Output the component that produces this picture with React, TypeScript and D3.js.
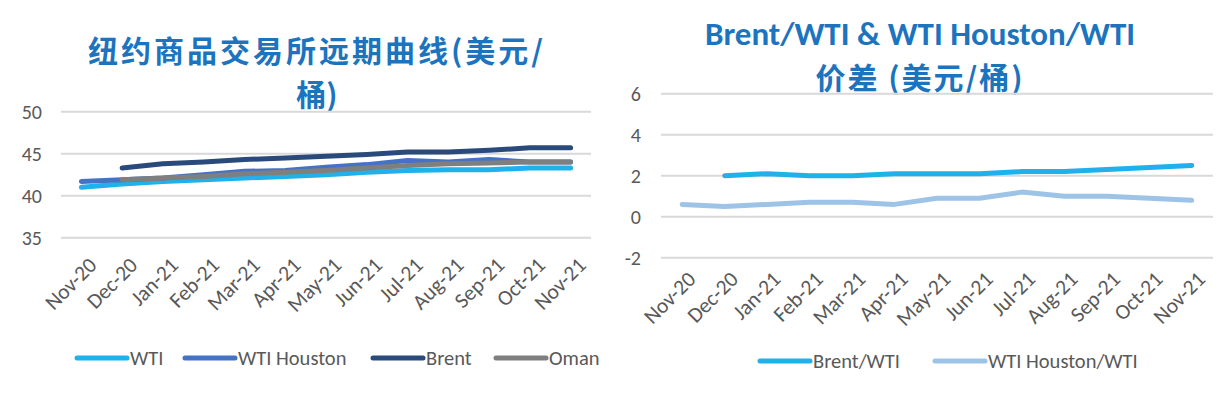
import React from "react";
import * as d3 from "d3";

// months on the x axis (both charts)
const months = ["Nov-20", "Dec-20", "Jan-21", "Feb-21", "Mar-21", "Apr-21", "May-21", "Jun-21", "Jul-21", "Aug-21", "Sep-21", "Oct-21", "Nov-21"];

// left chart: futures curves, USD/bbl (null = no value)
const wti = [41.0, 41.4, 41.7, 41.9, 42.1, 42.3, 42.5, 42.8, 43.0, 43.1, 43.1, 43.3, 43.3];
const wtiHouston = [41.7, 41.9, 42.1, 42.5, 42.9, 43.0, 43.4, 43.7, 44.2, 44.0, 44.3, 44.0, 44.0];
const brent = [null, 43.3, 43.8, 44.0, 44.3, 44.5, 44.7, 44.9, 45.2, 45.2, 45.4, 45.7, 45.7];
const oman = [null, 41.9, 42.1, 42.3, 42.6, 42.8, 43.0, 43.3, 43.6, 43.8, 43.9, 44.0, 44.0];
const leftTicks = [35, 40, 45, 50];

// right chart: spreads, USD/bbl
const brentWti = [null, 2.0, 2.1, 2.0, 2.0, 2.1, 2.1, 2.1, 2.2, 2.2, 2.3, 2.4, 2.5];
const houstonWti = [0.6, 0.5, 0.6, 0.7, 0.7, 0.6, 0.9, 0.9, 1.2, 1.0, 1.0, 0.9, 0.8];
const rightTicks = [-2, 0, 2, 4, 6];

const FONT = "Calibri, Carlito, Lato, 'Liberation Sans', Arial, sans-serif";
const CJK = "'Noto Sans CJK SC', sans-serif";
const TITLE_BLUE = "#1c74bf";
const TEXT_GREY = "#595959";

type Series = { name: string; values: (number | null)[]; color: string; legendX: number };

function Chart(props: {
  x0: number; x1: number; yTop: number; yBottom: number;
  domain: [number, number]; ticks: number[]; labelRight: number;
  series: Series[]; legendY: number; labelY: number; labelDx: number;
}) {
  const { x0, x1, yTop, yBottom, domain, ticks, labelRight, series, legendY, labelY, labelDx } = props;
  const x = d3.scalePoint<string>().domain(months).range([x0, x1]).padding(0.5);
  const y = d3.scaleLinear().domain(domain).range([yBottom, yTop]);
  const line = d3.line<number | null>()
    .defined((d) => d != null)
    .x((_, i) => x(months[i]) as number)
    .y((d) => y(d as number));

  return (
    <g>
      {ticks.map((t) => (
        <g key={t}>
          <line x1={x0} x2={x1} y1={y(t)} y2={y(t)} stroke="#d9d9d9" strokeWidth={2} />
          <text x={labelRight} y={y(t)} dy="0.35em" textAnchor="end" fontSize={20} fill={TEXT_GREY} fontFamily={FONT}>{t}</text>
        </g>
      ))}
      {months.map((m) => (
        <text key={m} transform={`translate(${(x(m) as number) + labelDx},${labelY}) rotate(-45)`}
          textAnchor="end" dy="0.7em" fontSize={21.5} fill={TEXT_GREY} fontFamily={FONT}>{m}</text>
      ))}
      {series.map((s) => (
        <path key={s.name} d={line(s.values) || ""} fill="none" stroke={s.color}
          strokeWidth={5} strokeLinecap="round" strokeLinejoin="round" />
      ))}
      {series.map((s) => (
        <g key={s.name}>
          <line x1={s.legendX} x2={s.legendX + 50} y1={legendY} y2={legendY} stroke={s.color} strokeWidth={5} strokeLinecap="round" />
          <text x={s.legendX + 53} y={legendY} dy="0.35em" fontSize={20.5} fill={TEXT_GREY} fontFamily={FONT}>{s.name}</text>
        </g>
      ))}
    </g>
  );
}

export default function App() {
  const leftSeries: Series[] = [
    { name: "WTI", values: wti, color: "#1fb1ec", legendX: 77 },
    { name: "WTI Houston", values: wtiHouston, color: "#4472c4", legendX: 185 },
    { name: "Brent", values: brent, color: "#2a4a7c", legendX: 373 },
    { name: "Oman", values: oman, color: "#7f7f7f", legendX: 496 },
  ];
  const rightSeries: Series[] = [
    { name: "Brent/WTI", values: brentWti, color: "#1fb1ec", legendX: 760 },
    { name: "WTI Houston/WTI", values: houstonWti, color: "#9dc3e6", legendX: 935 },
  ];
  return (
    <svg width={1228} height={396} style={{ position: "absolute", left: 0, top: 0, background: "#fff" }}>
      <text x={317} y={62} textAnchor="middle" fontSize={30} letterSpacing={3} fontWeight="bold" fill={TITLE_BLUE}
        fontFamily={CJK}>纽约商品交易所远期曲线(美元/</text>
      <text x={317} y={106} textAnchor="middle" fontSize={30} fontWeight="bold" fill={TITLE_BLUE}
        fontFamily={CJK}>桶)</text>
      <text x={920} y={45} textAnchor="middle" fontSize={33} fontWeight="bold" fill={TITLE_BLUE}
        fontFamily={FONT}>Brent/WTI &amp; WTI Houston/WTI</text>
      <text x={920} y={89} textAnchor="middle" fontSize={30} letterSpacing={2} fontWeight="bold" fill={TITLE_BLUE}
        fontFamily={CJK}>价差 (美元/桶)</text>

      <Chart x0={61} x1={591} yTop={111.7} yBottom={237.7} domain={[35, 50]} ticks={leftTicks}
        labelRight={42} series={leftSeries} legendY={358} labelY={256} labelDx={6} />
      <Chart x0={661} x1={1213} yTop={93.7} yBottom={257.7} domain={[-2, 6]} ticks={rightTicks}
        labelRight={641} series={rightSeries} legendY={361} labelY={270} labelDx={4} />
    </svg>
  );
}
